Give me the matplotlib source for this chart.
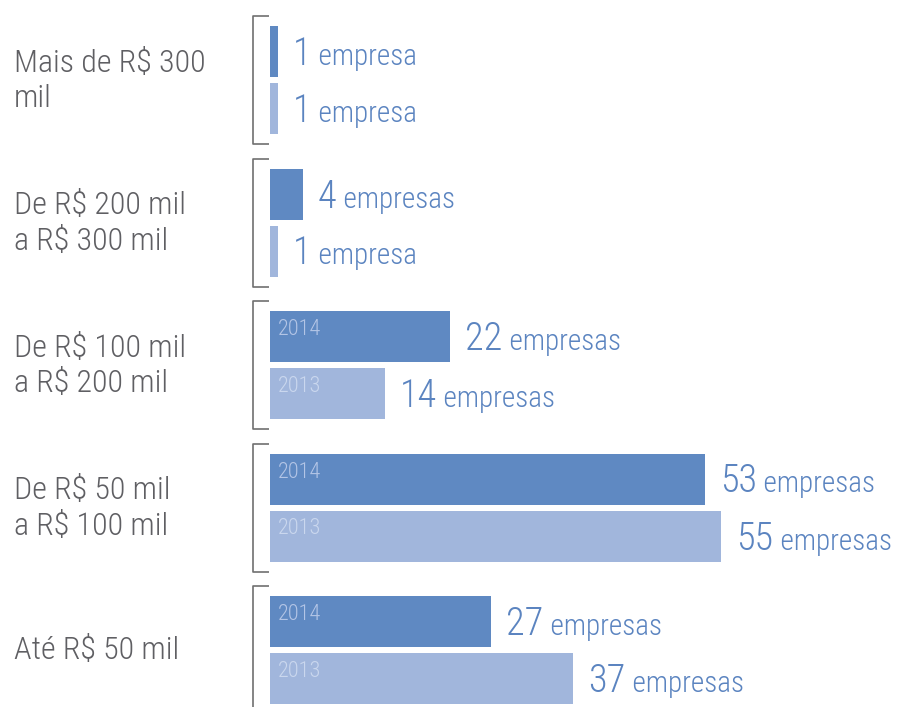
import matplotlib
matplotlib.use('Agg')
import matplotlib.pyplot as plt

categories = ['Mais de R$ 300\nmil', 'De R$ 200 mil\na R$ 300 mil',
              'De R$ 100 mil\na R$ 200 mil', 'De R$ 50 mil\na R$ 100 mil',
              'Até R$ 50 mil']
empresas_2014 = [1, 4, 22, 53, 27]
empresas_2013 = [1, 1, 14, 55, 37]
years = ['2014', '2013']
show_year = [False, False, True, True, True]

plt.rcParams['font.family'] = ['Roboto Condensed', 'DejaVu Sans']
plt.rcParams['font.weight'] = 'light'

W, H, DPI = 904, 707, 100
PX = 8.2          # pixels per company
X0 = 270          # left edge of the bars, px
BAR_H = 51
ROW0 = 51.5       # centre of the first bar
STEP = 142.5      # distance between groups
PAIR = 57         # distance between the 2014 and 2013 bars

dark = '#5f89c2'
light = '#a1b6dc'
txt_blue = '#5b84c0'
txt_gray = '#5f5f63'

fig = plt.figure(figsize=(W / DPI, H / DPI), dpi=DPI)
ax = fig.add_axes([0, 0, 1, 1])
ax.set_xlim(-X0 / PX, (W - X0) / PX)
ax.set_ylim(H, 0)
ax.axis('off')


def px(dx):
    return dx / PX


pending = []
for g, cat in enumerate(categories):
    y14 = ROW0 + STEP * g
    y13 = y14 + PAIR
    vals = [empresas_2014[g], empresas_2013[g]]
    ys = [y14, y13]
    cols = [dark, light]
    year_cols = ['#b3c5e6', '#cad7ee']
    ax.barh(ys, vals, height=BAR_H, left=0, color=cols, edgecolor='none')

    # bracket grouping each pair
    top = y14 - BAR_H / 2 - 10
    bot = y13 + BAR_H / 2 + 10
    ax.plot([px(-1), px(-17), px(-17), px(-1)], [top, top, bot, bot],
            color='#707070', lw=1.2, solid_capstyle='butt')

    ax.text(px(14 - X0), (y14 + y13) / 2 + 1, cat, ha='left', va='center',
            fontsize=23, color=txt_gray, linespacing=1.3)

    for v, y, yr, yc in zip(vals, ys, years, year_cols):
        if show_year[g]:
            ax.text(px(8), y - 1.5, yr, ha='left', va='baseline',
                    fontsize=16, color=yc)
        num = ax.text(v + px(15), y + 13.5, str(v), ha='left', va='baseline',
                      fontsize=27.5, color=txt_blue)
        word = ' empresa' if v == 1 else ' empresas'
        pending.append((num, y + 13.5, word))

fig.canvas.draw()
renderer = fig.canvas.get_renderer()
inv = ax.transData.inverted()
for num, y, word in pending:
    bb = num.get_window_extent(renderer)
    xr = inv.transform((bb.x1, bb.y0))[0]
    ax.text(xr + px(0.5), y, word, ha='left', va='baseline', fontsize=21,
            color=txt_blue)

fig.savefig('out.png', dpi=DPI)
